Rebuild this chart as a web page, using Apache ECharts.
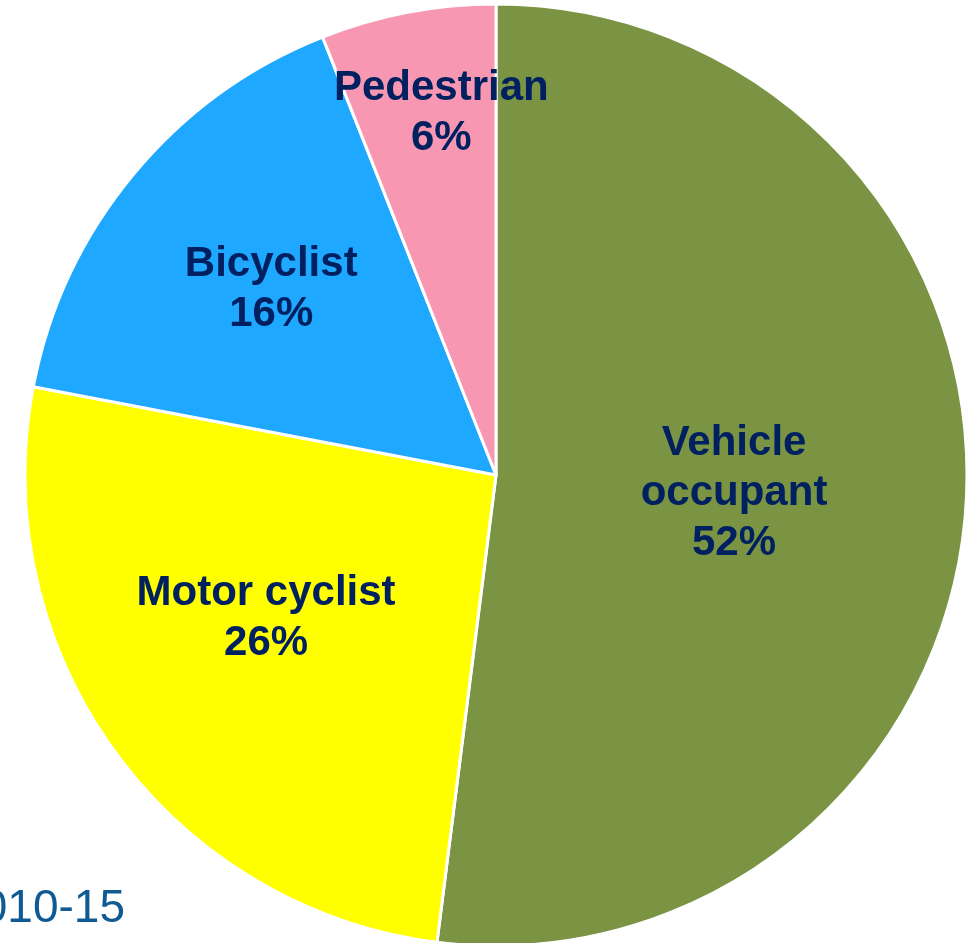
<!DOCTYPE html>
<html>
<head>
<meta charset="utf-8">
<script src="https://cdn.jsdelivr.net/npm/echarts@6/dist/echarts.min.js"></script>
<style>
  html, body { margin: 0; padding: 0; background: #fff; }
  #main { width: 972px; height: 943px; }
</style>
</head>
<body>
<div id="main"></div>
<script>
// data
var categories = ['Vehicle\noccupant', 'Motor cyclist', 'Bicyclist', 'Pedestrian'];
var shares = [52, 26, 16, 6];
var colours = ['#7A9444', '#FFFF00', '#1FA8FF', '#F797B1'];
// nudges so labels sit where the original best-fit put them
var labelShift = [[0, 3], [-37, 3], [-41, -34], [-10, -127]];

var myChart = echarts.init(document.getElementById('main'));

var data = categories.map(function (name, i) {
    return { name: name, value: shares[i], itemStyle: { color: colours[i] } };
});

myChart.setOption({
    animation: false,
    graphic: [{
        type: 'text',
        right: 847,
        top: 886,
        style: {
            text: '2010-15',
            fill: '#0F5A93',
            font: '46px "Liberation Sans", Arial, sans-serif'
        }
    }],
    series: [{
        type: 'pie',
        center: [496, 475],
        radius: [0, 471],
        startAngle: 90,
        clockwise: true,
        data: data,
        itemStyle: {
            borderColor: '#fff',
            borderWidth: 3
        },
        label: {
            show: true,
            position: 'inside',
            formatter: '{b}\n{c}%',
            color: '#002060',
            fontFamily: '"Liberation Sans", Arial, sans-serif',
            fontWeight: 'bold',
            fontSize: 42,
            lineHeight: 50,
            align: 'center'
        },
        labelLine: { show: false },
        labelLayout: function (params) {
            var s = labelShift[params.dataIndex];
            return { dx: s[0], dy: s[1] };
        },
        emphasis: { disabled: true }
    }]
});
</script>
</body>
</html>
